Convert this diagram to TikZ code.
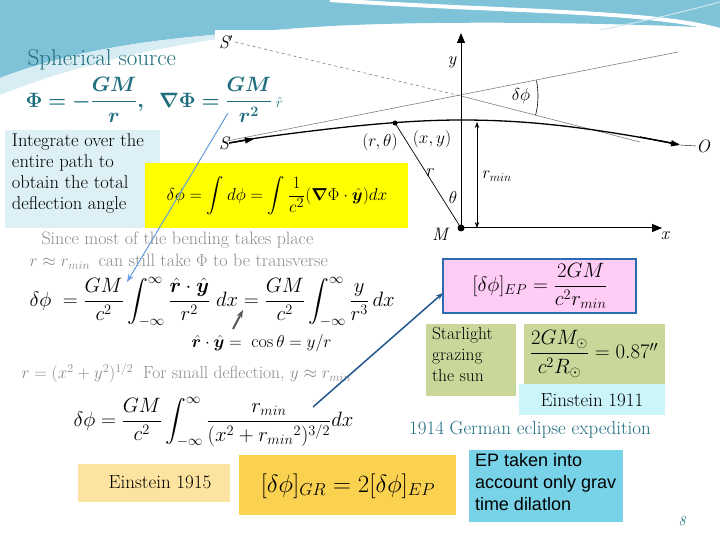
\documentclass[tikz,border=0pt]{standalone}
\usepackage{amsmath,bm}
\usepackage{fontspec}
\newfontfamily\arialf{Liberation Sans}
\usetikzlibrary{arrows.meta}
\newcommand{\uph}{\phi}
\definecolor{teal1}{HTML}{1F6E7E}
\definecolor{lblue}{HTML}{DDF0F6}
\definecolor{yel}{HTML}{FFFF00}
\definecolor{gray1}{HTML}{8C8C8C}
\definecolor{orng1}{HTML}{FDE3A0}
\definecolor{orng2}{HTML}{FBD150}
\definecolor{pinkb}{HTML}{FFCCF5}
\definecolor{bordb}{HTML}{2A6CB0}
\definecolor{olive}{HTML}{C9D89A}
\definecolor{cyanl}{HTML}{CCF5FA}
\definecolor{cyanb}{HTML}{79D3E8}
\definecolor{topb}{HTML}{7FC3D8}
\begin{document}
\begin{tikzpicture}[x=1pt,y=-1pt,
  box/.style={inner sep=0pt,outer sep=0pt,anchor=north west},
  lbl/.style={inner sep=0pt,font=\itshape\fontsize{18}{18}\selectfont},
  ax/.style={-{Triangle[length=10pt,width=8pt]},line width=1pt}]
\useasboundingbox (0,0) rectangle (720,540);
\fill[white] (0,0) rectangle (720,540);
% top banner
\fill[topb] (0,0) -- (720,0) -- (720,28) .. controls (600,22) and (400,20) .. (300,28) .. controls (200,36) and (100,40) .. (0,78) -- cycle;
\fill[white!70!topb] (0,78) .. controls (100,40) and (200,36) .. (300,28) .. controls (200,40) and (100,55) .. (0,95) -- cycle;
\draw[white,line width=4pt] (330,0) .. controls (500,12) and (650,10) .. (720,30);
\draw[white!60!topb,line width=1pt] (600,30) .. controls (650,20) and (690,10) .. (720,2);
% diagram area
\fill[white] (215,30) rectangle (712,245);
\draw[gray,dashed,line width=0.6pt] (235,42) -- (461,96);
\draw[gray,line width=0.6pt] (461,96) -- (640,142);
\draw[gray,line width=0.6pt] (222,142) -- (678,52);
\node[lbl] (Sp) at (226,42) {S$'$};
\node[lbl] (S) at (224,143) {S};
\node[lbl] (O) at (703,146) {O};
\node[lbl] (M) at (440,234) {M};
\node[lbl] (yl) at (452,62) {y};
\node[lbl] (xl) at (665,236) {x};
\coordinate (Mc) at (461,228);
\coordinate (P) at (395,123);
\coordinate (top) at (461,33);
\coordinate (xend) at (662,228);
\draw[ax] (Mc) -- (top);
\draw[ax] (Mc) -- (xend);
\fill (Mc) circle (3.5pt);
\draw[line width=1.3pt] (S.east) -- (250,139) .. controls (330,128) and (400,120) .. (461,120) .. controls (540,120) and (600,130) .. (678,144);
\draw[-{Triangle[length=9pt,width=6pt]},line width=1.3pt] (S.east) -- (254,139);
\draw[-{Triangle[length=9pt,width=6pt]},line width=1.3pt] (640,137) -- (680,145);
\draw (680,145) -- (O.west);
\fill (P) circle (2.5pt);
\draw[line width=0.7pt] (P) -- (Mc);
\draw[{Stealth[length=6pt]}-{Stealth[length=6pt]},line width=0.6pt] (477,122) -- (477,228);
\node[lbl] (rt) at (380,142) {$(r,\theta)$};
\node[lbl] (xy) at (432,139) {$(x,y)$};
\node[lbl] (rr) at (429,173) {r};
\node[lbl] (th) at (453,198) {$\theta$};
\node[lbl] (rm) at (497,176) {$r_{min}$};
\draw[line width=0.6pt] (461,96) ++(-11.5:77) arc[start angle=-11.5,end angle=14.4,radius=77];
\node[lbl] (dp) at (521,96) {$\delta\phi$};
% left
\node[anchor=west,text=teal1,font=\fontsize{23}{23}\selectfont] (sph) at (24,60) {Spherical source};
\node[anchor=west,text=teal1,font=\fontsize{21}{21}\selectfont] (phi) at (22,100) {$\bm{\Phi=-\dfrac{GM}{r},\;\;\nabla\Phi=\dfrac{GM}{r^2}}\,{\scriptstyle\hat r}$};
\fill[lblue] (5,130) rectangle (160,228);
\node[box,align=left,font=\fontsize{18.5}{21}\selectfont] (integ) at (12,134) {Integrate over the\\entire path to\\obtain the total\\deflection angle};
\fill[yel] (145,163) rectangle (408,228);
\node[font=\fontsize{19}{19}\selectfont] (yeq) at (277,196) {$\delta\phi=\displaystyle\int d\phi=\int\frac{1}{c^2}(\bm{\nabla}\Phi\cdot\hat{\bm y})dx$};
\node[anchor=west,text=gray1,font=\fontsize{18}{18}\selectfont] (g1) at (38,240) {Since most of the bending takes place};
\node[anchor=west,text=gray1,font=\fontsize{18}{18}\selectfont] (g2) at (26,262) {$r\approx r_{min}$\, can still take $\Phi$ to be transverse};
\node[anchor=west,font=\fontsize{20}{20}\selectfont] (e1) at (26,302) {$\delta\uph\;=\dfrac{GM}{c^2}\displaystyle\int_{-\infty}^{\infty}\frac{\hat{\bm r}\cdot\hat{\bm y}}{r^2}\;dx=\frac{GM}{c^2}\int_{-\infty}^{\infty}\frac{y}{r^3}\,dx$};
\node[anchor=west,font=\fontsize{18}{18}\selectfont] (e2) at (188,343) {$\hat{\bm r}\cdot\hat{\bm y}=\;\cos\theta=y/r$};
\node[anchor=west,text=gray1,font=\fontsize{17.5}{18}\selectfont] (e3) at (18,373) {$r=(x^2+y^2)^{1/2}$\;\;For small deflection, $y\approx r_{min}$};
\node[anchor=west,font=\fontsize{20}{20}\selectfont] (e4) at (70,422) {$\delta\uph=\dfrac{GM}{c^2}\displaystyle\int_{-\infty}^{\infty}\frac{r_{min}}{(x^2+{r_{min}}^2)^{3/2}}dx$};
\fill[orng1] (78,464) rectangle (230,502);
\node[font=\fontsize{19}{19}\selectfont] (e1915) at (160,482) {Einstein 1915};
\fill[orng2] (239,455) rectangle (456,515);
\node[font=\fontsize{27}{27}\selectfont] (gr) at (348,486) {$[\delta\uph]_{GR}=2[\delta\uph]_{EP}$};
\draw[bordb,line width=2.5pt,fill=pinkb] (443,259) rectangle (636,313);
\node[font=\fontsize{20}{20}\selectfont] (ep) at (540,286) {$[\delta\uph]_{EP}=\dfrac{2GM}{c^2r_{min}}$};
\fill[olive] (426,324) rectangle (516,396);
\node[box,align=left,font=\fontsize{17.5}{21}\selectfont] (star) at (432,327) {Starlight\\grazing\\the sun};
\fill[olive] (524,324) rectangle (665,384);
\node[font=\fontsize{20}{20}\selectfont] (sun) at (594,354) {$\dfrac{2GM_\odot}{c^2R_\odot}=0.87''$};
\fill[cyanl] (519,384) rectangle (665,415);
\node[font=\fontsize{19}{19}\selectfont] (e1911) at (592,400) {Einstein 1911};
\node[text=teal1,font=\fontsize{19}{19}\selectfont] (exp) at (530,430) {1914 German eclipse expedition};
\fill[cyanb] (469,450) rectangle (623,522);
\node[box,align=left,font=\arialf\fontsize{18}{22}\selectfont] (eptxt) at (475,453) {EP taken into\\account only grav\\time dilatlon};
\node[text=teal1,font=\itshape\fontsize{14}{14}\selectfont] (pg) at (682,521) {8};
% arrows
\coordinate (a1) at (228,113);
\coordinate (a2) at (127,282);
\draw[-{Stealth[length=8pt]},color=topb!80!blue,line width=1pt] (a1) -- (a2);
\draw[-{Stealth[length=8pt]},gray!70!black,line width=2pt] (233,329) -- (243,310);
\draw[-{Stealth[length=7pt]},color=bordb!80!black,line width=1.5pt] (313,407) -- (443,293);
\end{tikzpicture}
\end{document}
